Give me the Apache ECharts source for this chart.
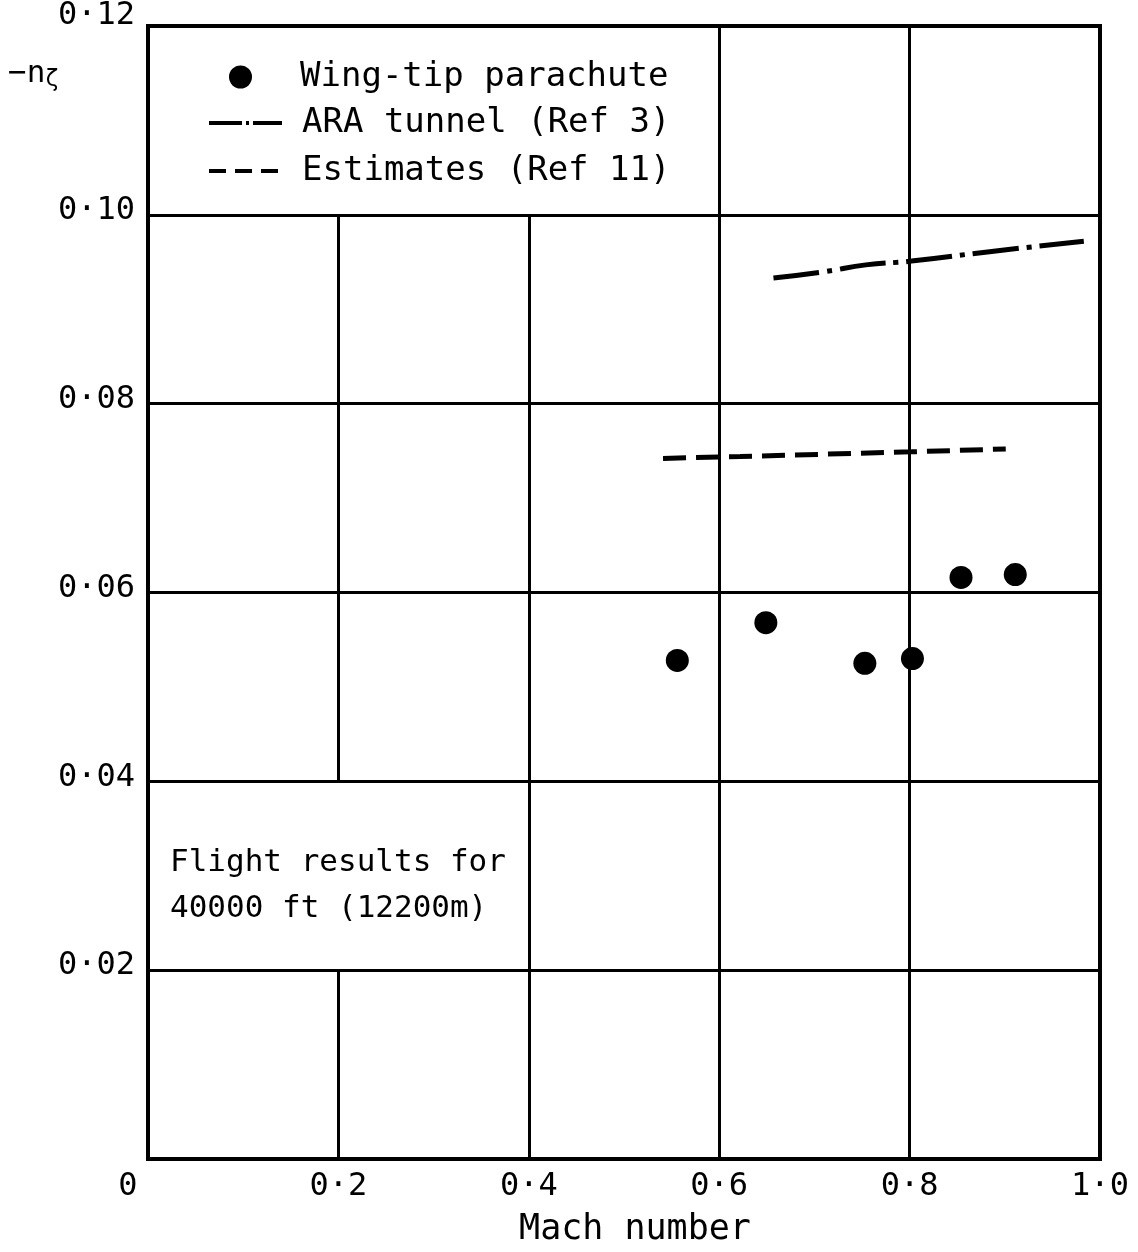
<!DOCTYPE html>
<html>
<head>
<meta charset="utf-8">
<script src="https://cdn.jsdelivr.net/npm/echarts@6/dist/echarts.min.js"></script>
<style>
  html, body { margin: 0; padding: 0; background: #fff; }
  #chart { width: 1138px; height: 1252px; }
</style>
</head>
<body>
<div id="chart"></div>
<script>
// flight points (wing-tip parachute)
const flightMach = [0.556, 0.649, 0.753, 0.803, 0.854, 0.911];
const flightNz = [0.0528, 0.0568, 0.0525, 0.0530, 0.0616, 0.0619];

// ARA tunnel (Ref 3)
const araMach = [0.657, 0.712, 0.754, 0.802, 0.884, 0.983];
const araNz = [0.0933, 0.0940, 0.0947, 0.0951, 0.0961, 0.0972];

// Estimates (Ref 11)
const estMach = [0.541, 0.622, 0.802, 0.901];
const estNz = [0.0742, 0.0744, 0.0749, 0.0752];

const xTicks = [0, 0.2, 0.4, 0.6, 0.8, 1.0];
const yTicks = [0, 0.02, 0.04, 0.06, 0.08, 0.10, 0.12];

// grid segments [x1, y1, x2, y2] - some cells are left open for the text boxes
const gridSegs = [
  [0.2, 0, 0.2, 0.02], [0.2, 0.04, 0.2, 0.10],
  [0.4, 0, 0.4, 0.10],
  [0.6, 0, 0.6, 0.12],
  [0.8, 0, 0.8, 0.12],
  [0, 0.02, 1, 0.02], [0, 0.04, 1, 0.04], [0, 0.06, 1, 0.06],
  [0, 0.08, 1, 0.08], [0, 0.10, 1, 0.10]
];

const FONT = 'DejaVu Sans Mono';
const INK = '#000';

const fmtY = v => {
  if (v === 0) return '';
  const s = v.toFixed(2).replace('.', '\u00b7');
  return v >= 0.12 ? '{t|' + s + '}' : '{m|' + s + '}';
};
const fmtX = v => v === 0 ? '{z|0}' : v.toFixed(1).replace('.', '\u00b7');

const chart = echarts.init(document.getElementById('chart'));
chart.setOption({
  backgroundColor: '#fff',
  animation: false,
  grid: {
    left: 148, right: 38, top: 25, bottom: 85,
    show: true, borderColor: INK, borderWidth: 4
  },
  xAxis: {
    type: 'value', min: 0, max: 1, interval: 0.2,
    name: 'Mach number', nameLocation: 'middle', nameGap: 53,
    nameTextStyle: { fontFamily: FONT, fontSize: 35, color: INK, padding: [0, 0, 0, 22] },
    axisLine: { show: false }, axisTick: { show: false }, splitLine: { show: false },
    axisLabel: {
      margin: 12, fontFamily: FONT, fontSize: 32, color: INK,
      formatter: fmtX,
      rich: { z: { fontFamily: FONT, fontSize: 32, color: INK, padding: [0, 40, 0, 0] } }
    }
  },
  yAxis: {
    type: 'value', min: 0, max: 0.12, interval: 0.02,
    axisLine: { show: false }, axisTick: { show: false }, splitLine: { show: false },
    axisLabel: {
      margin: 13, color: INK,
      formatter: fmtY,
      rich: {
        m: { fontFamily: FONT, fontSize: 32, color: INK, padding: [0, 0, 8, 0] },
        t: { fontFamily: FONT, fontSize: 32, color: INK, padding: [0, 0, 20, 0] }
      }
    }
  },
  legend: [
    {
      data: ['Wing-tip parachute'], left: 224, top: 54, orient: 'vertical',
      itemWidth: 23, itemHeight: 23,
      itemStyle: { opacity: 1 },
      textStyle: { fontFamily: FONT, fontSize: 34, color: INK, lineHeight: 36, padding: [0, 0, 0, 43] }
    },
    {
      data: [
        { name: 'ARA tunnel (Ref 3)', lineStyle: { type: [33, 4, 3, 4, 40], width: 4 } },
        { name: 'Estimates (Ref 11)', lineStyle: { type: [17, 9], width: 4 } }
      ],
      left: 202, top: 100, orient: 'vertical',
      itemWidth: 73, itemHeight: 6, itemGap: 12,
      itemStyle: { opacity: 0 },
      textStyle: { fontFamily: FONT, fontSize: 34, color: INK, lineHeight: 36, padding: [0, 0, 0, 15] }
    }
  ],
  graphic: [
    {
      type: 'text', left: 8, top: 58,
      style: {
        text: '{n|\u2212n}{s|\u03b6}',
        rich: {
          n: { fontFamily: FONT, fontSize: 31, fill: INK },
          s: { fontFamily: FONT, fontSize: 23, fill: INK, padding: [14, 0, 0, 0] }
        }
      }
    },
    {
      type: 'text', left: 170, top: 840,
      style: {
        text: 'Flight results for\n40000 ft (12200m)',
        fontFamily: FONT, fontSize: 31, fill: INK, lineHeight: 46
      }
    }
  ],
  series: [
    {
      name: 'grid', type: 'line', data: [], silent: true,
      markLine: {
        silent: true, symbol: 'none', label: { show: false },
        lineStyle: { color: INK, width: 3, type: 'solid' },
        data: gridSegs.map(s => [{ coord: [s[0], s[1]] }, { coord: [s[2], s[3]] }])
      }
    },
    {
      name: 'ARA tunnel (Ref 3)', type: 'line', symbol: 'none', smooth: true,
      data: araMach.map((m, i) => [m, araNz[i]]),
      lineStyle: { color: INK, width: 5, type: [46, 8, 5, 8] },
      itemStyle: { color: INK }
    },
    {
      name: 'Estimates (Ref 11)', type: 'line', symbol: 'none',
      data: estMach.map((m, i) => [m, estNz[i]]),
      lineStyle: { color: INK, width: 5, type: [23, 10] },
      itemStyle: { color: INK }
    },
    {
      name: 'Wing-tip parachute', type: 'scatter', symbol: 'circle', symbolSize: 23,
      data: flightMach.map((m, i) => [m, flightNz[i]]),
      itemStyle: { color: INK, opacity: 1 }
    }
  ]
});
</script>
</body>
</html>
